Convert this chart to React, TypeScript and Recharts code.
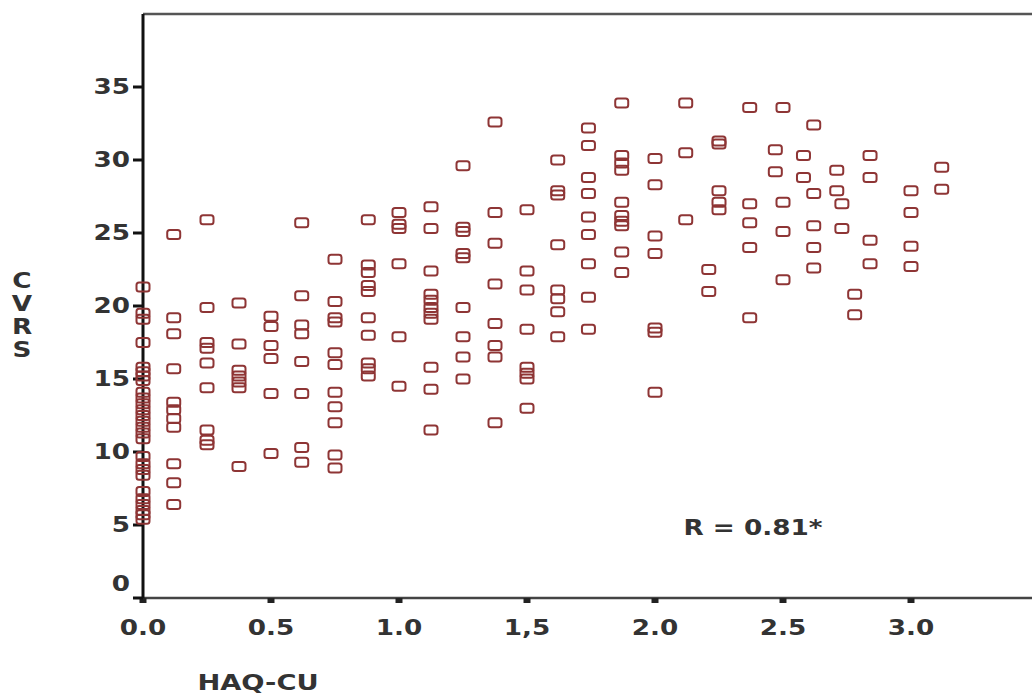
import { FC } from "react";
import { ScatterChart, Scatter, XAxis, YAxis, ReferenceLine } from "recharts";

// HAQ-CU columns (x positions of the point stacks)
const haqLevels: number[] = [
  0, 0.12, 0.25, 0.375, 0.5, 0.62, 0.75, 0.88, 1.0, 1.125, 1.25, 1.375, 1.5, 1.62, 1.74, 1.87,
  2.0, 2.12, 2.21, 2.25, 2.37, 2.47, 2.5, 2.58, 2.62, 2.71, 2.73, 2.78, 2.84, 3.0, 3.12,
];

// CVRS values for each column above, same order
const cvrsByHaq: number[][] = [
  [21.3, 19.5, 19.1, 17.5, 15.8, 15.5, 15.2, 14.9, 14.1, 13.7, 13.3, 12.9, 12.5, 12.1, 11.7, 11.3, 10.9, 9.7, 9.2, 8.8, 8.4, 7.3, 6.8, 6.4, 6.0, 5.7, 5.4],
  [24.9, 19.2, 18.1, 15.7, 13.4, 12.9, 12.3, 11.7, 9.2, 7.9, 6.4],
  [25.9, 19.9, 17.5, 17.1, 16.1, 14.4, 11.5, 10.8, 10.5],
  [20.2, 17.4, 15.6, 15.2, 14.8, 14.4, 9.0],
  [19.3, 18.6, 17.3, 16.4, 14.0, 9.9],
  [25.7, 20.7, 18.7, 18.1, 16.2, 14.0, 10.3, 9.3],
  [23.2, 20.3, 19.2, 18.9, 16.8, 16.0, 14.1, 13.1, 12.0, 9.8, 8.9],
  [25.9, 22.8, 22.3, 21.4, 21.0, 19.2, 18.0, 16.1, 15.7, 15.2],
  [26.4, 25.6, 25.3, 22.9, 17.9, 14.5],
  [26.8, 25.3, 22.4, 20.8, 20.4, 19.9, 19.5, 19.1, 15.8, 14.3, 11.5],
  [29.6, 25.4, 25.1, 23.6, 23.3, 19.9, 17.9, 16.5, 15.0],
  [32.6, 26.4, 24.3, 21.5, 18.8, 17.3, 16.5, 12.0],
  [26.6, 22.4, 21.1, 18.4, 15.8, 15.4, 15.0, 13.0],
  [30.0, 27.9, 27.6, 24.2, 21.1, 20.5, 19.6, 17.9],
  [32.2, 31.0, 28.8, 27.7, 26.1, 24.9, 22.9, 20.6, 18.4],
  [33.9, 30.3, 29.8, 29.3, 27.1, 26.2, 25.8, 25.5, 23.7, 22.3],
  [30.1, 28.3, 24.8, 23.6, 18.5, 18.2, 14.1],
  [33.9, 30.5, 25.9],
  [22.5, 21.0],
  [31.3, 31.1, 27.9, 27.1, 26.6],
  [33.6, 27.0, 25.7, 24.0, 19.2],
  [30.7, 29.2],
  [33.6, 27.1, 25.1, 21.8],
  [30.3, 28.8],
  [32.4, 27.7, 25.5, 24.0, 22.6],
  [29.3, 27.9],
  [27.0, 25.3],
  [20.8, 19.4],
  [30.3, 28.8, 24.5, 22.9],
  [27.9, 26.4, 24.1, 22.7],
  [29.5, 28.0],
];

const xTicks: number[] = [0, 0.5, 1, 1.5, 2, 2.5, 3];
const xTickLabels: string[] = ["0.0", "0.5", "1.0", "1,5", "2.0", "2.5", "3.0"];
const yTicks: number[] = [0, 5, 10, 15, 20, 25, 30, 35];

const FONT = "'DejaVu Sans', Verdana, sans-serif";
const INK = "#333";
const MARKER = "#8e3535";

const points = haqLevels.flatMap((h, i) => cvrsByHaq[i].map((v) => ({ haq: h, cvrs: v })));

const Box = (p: any) => (
  <rect x={p.cx - 6.5} y={p.cy - 4.5} width={13} height={9} rx={2.5} fill="none" stroke={MARKER} strokeWidth={2} />
);

const YTick = ({ x, y, payload }: any) => (
  <g transform={`translate(${x},${y + (payload.value === 0 ? -14 : 0)})`}>
    <text textAnchor="end" dominantBaseline="central" transform="scale(1.25,1)" fontFamily={FONT} fontSize={21} fontWeight="bold" fill={INK}>
      {payload.value}
    </text>
  </g>
);

const XTick = ({ x, y, payload }: any) => (
  <g transform={`translate(${x},${y + 25})`}>
    <text textAnchor="middle" dominantBaseline="central" transform="scale(1.25,1)" fontFamily={FONT} fontSize={21} fontWeight="bold" fill={INK}>
      {xTickLabels[xTicks.indexOf(payload.value)]}
    </text>
  </g>
);

const App: FC = () => {
  return (
    <div style={{ position: "absolute", left: 0, top: 0, width: 1032, height: 695, overflow: "hidden", background: "#fff" }}>
      <ScatterChart width={1040} height={695} margin={{ top: 14, right: 1, bottom: 37, left: 0 }}>
        <XAxis
          type="number"
          dataKey="haq"
          domain={[0, 3.5]}
          ticks={xTicks}
          height={60}
          axisLine={{ stroke: "#444", strokeWidth: 2.5 }}
          tickLine={{ stroke: "#222", strokeWidth: 7 }}
          tickSize={5}
          tickMargin={0}
          tick={XTick}
        />
        <YAxis
          type="number"
          dataKey="cvrs"
          domain={[0, 40]}
          ticks={yTicks}
          width={143}
          axisLine={{ stroke: "#111", strokeWidth: 3 }}
          tickLine={{ stroke: "#111", strokeWidth: 3 }}
          tickSize={10}
          tickMargin={3}
          tick={YTick}
        />
        <ReferenceLine y={40} stroke="#555" strokeWidth={2.5} />
        <Scatter data={points} shape={Box} isAnimationActive={false} />
      </ScatterChart>

      <div style={{ position: "absolute", left: 10, top: 270, width: 24, fontFamily: FONT, fontWeight: "bold", fontSize: 21, color: INK, textAlign: "center" }}>
        {"CVRS".split("").map((c) => (
          <div key={c} style={{ height: 23, lineHeight: "23px", transform: "scaleX(1.25)" }}>{c}</div>
        ))}
      </div>
      <div style={{ position: "absolute", left: 258, top: 683, transform: "translate(-50%,-50%) scaleX(1.3)", fontFamily: FONT, fontWeight: "bold", fontSize: 21, color: INK, lineHeight: 1, whiteSpace: "nowrap" }}>
        HAQ-CU
      </div>
      <div style={{ position: "absolute", left: 753, top: 528, transform: "translate(-50%,-50%) scaleX(1.25)", fontFamily: FONT, fontWeight: "bold", fontSize: 21, color: INK, lineHeight: 1, whiteSpace: "nowrap" }}>
        R = 0.81*
      </div>
    </div>
  );
};

export default App;
